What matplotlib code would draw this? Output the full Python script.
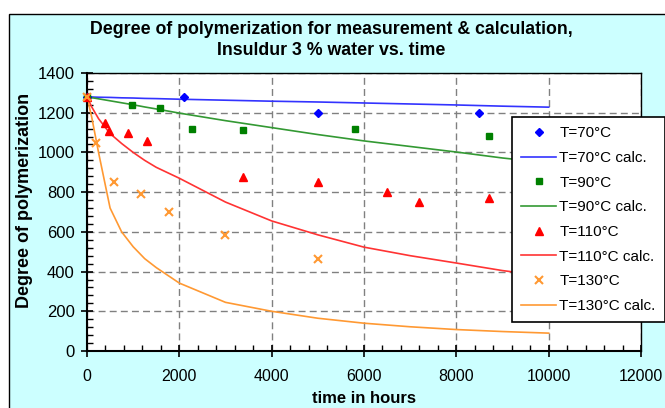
import matplotlib.pyplot as plt
from matplotlib.patches import Rectangle
from matplotlib.ticker import MultipleLocator

plt.rcParams['font.family'] = ['Liberation Sans', 'DejaVu Sans']

# measured degree of polymerization (time in hours)
t70 = [0, 2100, 5000, 8500]
dp70 = [1280, 1280, 1200, 1200]
t90 = [0, 980, 1580, 2280, 3380, 5800, 8700]
dp90 = [1280, 1238, 1222, 1118, 1112, 1118, 1082]
t110 = [0, 390, 480, 890, 1300, 3380, 5000, 6500, 7200, 8700]
dp110 = [1280, 1148, 1108, 1098, 1058, 876, 851, 801, 750, 770]
t130 = [0, 200, 590, 1170, 1780, 2990, 5000]
dp130 = [1280, 1047, 851, 791, 700, 584, 463]

# calculated curves
t_calc = [0, 100, 250, 500, 750, 1000, 1250, 1500, 2000, 3000, 4000, 5000, 6000, 7000, 8000, 9000, 10000]
calc70 = [1280, 1279, 1278, 1277, 1275, 1274, 1272, 1271, 1268, 1263, 1258, 1254, 1249, 1244, 1239, 1233, 1228]
calc90 = [1280, 1276, 1270, 1260, 1250, 1240, 1229, 1219, 1198, 1160, 1125, 1090, 1058, 1030, 1002, 972, 947]
calc110 = [1280, 1230, 1170, 1095, 1045, 1000, 960, 925, 870, 750, 655, 585, 523, 480, 443, 405, 375]
calc130 = [1280, 1180, 1000, 720, 600, 525, 465, 420, 342, 245, 200, 165, 140, 122, 108, 98, 90]

fig = plt.figure(figsize=(6.65, 4.08), dpi=100)
fig.patch.set_facecolor('white')
# cyan chart area with black frame
fig.patches.append(Rectangle((9 / 665, -0.1), 1.2, 1 - 14 / 408 + 0.1, transform=fig.transFigure,
                             facecolor='#CCFFFF', edgecolor='black', linewidth=1.0, zorder=-1))

ax = fig.add_axes([87 / 665, 57 / 408, 554 / 665, 278 / 408])
ax.set_zorder(1)
ax.set_facecolor('white')

ax.plot(t70, dp70, linestyle='none', marker='D', markersize=4.5, color='#0000FF', label='T=70°C', clip_on=False, zorder=3)
ax.plot(t_calc, calc70, color='#3333FF', linewidth=1.2, label='T=70°C calc.', zorder=2)
ax.plot(t90, dp90, linestyle='none', marker='s', markersize=5, color='#008000', label='T=90°C', clip_on=False, zorder=3)
ax.plot(t_calc, calc90, color='#339933', linewidth=1.2, label='T=90°C calc.', zorder=2)
ax.plot(t110, dp110, linestyle='none', marker='^', markersize=6, color='#FF0000', label='T=110°C', clip_on=False, zorder=3)
ax.plot(t_calc, calc110, color='#FF3333', linewidth=1.2, label='T=110°C calc.', zorder=2)
ax.plot(t130, dp130, linestyle='none', marker='x', markersize=5.5, markeredgewidth=1.5, color='#FF9933', label='T=130°C', clip_on=False, zorder=3)
ax.plot(t_calc, calc130, color='#FF9933', linewidth=1.2, label='T=130°C calc.', zorder=2)

ax.set_xlim(0, 12000)
ax.set_ylim(0, 1400)
ax.xaxis.set_major_locator(MultipleLocator(2000))
ax.xaxis.set_minor_locator(MultipleLocator(400))
ax.yaxis.set_major_locator(MultipleLocator(200))
ax.yaxis.set_minor_locator(MultipleLocator(40))

ax.grid(True, which='major', color='#808080', linestyle=(0, (5, 3)), linewidth=1.0)
ax.set_axisbelow(True)

for side in ['left', 'bottom']:
    ax.spines[side].set_linewidth(1.5)
for side in ['top', 'right']:
    ax.spines[side].set_linewidth(1.0)

ax.tick_params(which='major', direction='inout', length=8, width=1.2, colors='black')
ax.tick_params(axis='x', which='major', pad=9, labelsize=11.5)
ax.tick_params(axis='y', which='major', pad=5, labelsize=12)
ax.tick_params(which='minor', direction='in', length=4, width=1.0)

ax.set_xlabel('time in hours', fontsize=12, fontweight='bold')
ax.set_ylabel('Degree of polymerization', fontsize=13, fontweight='bold')
ax.xaxis.set_label_coords(0.5, -0.145)
ax.yaxis.set_label_coords(-0.098, 0.54)

fig.text(331 / 665, 1 - 40 / 408, 'Degree of polymerization for measurement & calculation,\nInsuldur 3 % water vs. time',
         ha='center', va='center', fontsize=12.8, fontweight='bold', linespacing=1.3)

leg = ax.legend(loc='upper left', bbox_to_anchor=(512 / 665, 1 - 117 / 408), bbox_transform=fig.transFigure,
                borderaxespad=0, fontsize=11, frameon=True, fancybox=False, framealpha=1,
                edgecolor='black', labelspacing=0.7, handlelength=2.3, handletextpad=0.2, borderpad=0.6)
leg.get_frame().set_linewidth(1.2)

fig.savefig('out.png', dpi=100, facecolor=fig.get_facecolor())
